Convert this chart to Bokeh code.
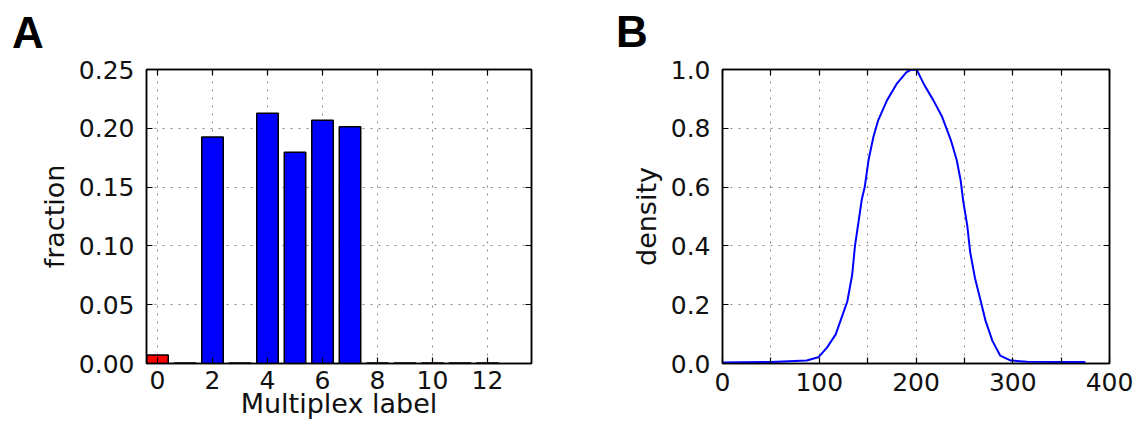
from bokeh.plotting import figure
from bokeh.models import (FixedTicker, PrintfTickFormatter, LinearAxis,
                          Range1d, ColumnDataSource, Div)
from bokeh.layouts import row, column
from bokeh.embed import file_html
from bokeh.resources import INLINE

# ---------------- data ----------------
multiplex_labels = [0, 1, 2, 3, 4, 5, 6, 7, 8, 9, 10, 11, 12]
fractions = [0.0073, 0.0005, 0.1926, 0.0005, 0.2128, 0.1797, 0.2069, 0.2013,
             0.0005, 0.0005, 0.0005, 0.0005, 0.0005]
highlight_label = 0

density_x = [0, 18, 50, 87, 99, 108, 117, 123, 129, 134, 137, 141, 144, 147,
             151, 156, 161, 170, 180, 190, 194, 199, 201, 208, 218, 227, 236,
             242, 246, 249, 253, 256, 261, 267, 272, 279, 287, 298, 315, 350, 375]
density_y = [0.003, 0.004, 0.005, 0.010, 0.021, 0.054, 0.099, 0.155, 0.211,
             0.301, 0.402, 0.491, 0.559, 0.600, 0.693, 0.771, 0.828, 0.895,
             0.951, 0.990, 0.998, 1.000, 0.998, 0.951, 0.895, 0.839, 0.760,
             0.693, 0.626, 0.548, 0.469, 0.379, 0.290, 0.211, 0.144, 0.077,
             0.027, 0.010, 0.006, 0.005, 0.005]

a_xticks = [0, 2, 4, 6, 8, 10, 12]
a_yticks = [0.0, 0.05, 0.10, 0.15, 0.20, 0.25]
b_xticks = [0, 50, 100, 150, 200, 250, 300, 350, 400]
b_xtick_labels = ["0", "", "100", "", "200", "", "300", "", "400"]
b_yticks = [0.0, 0.2, 0.4, 0.6, 0.8, 1.0]

a_xlabel = "Multiplex label"
a_ylabel = "fraction"
b_ylabel = "density"
panel_titles = ["A", "B"]

FONT = "DejaVu Sans"
TICK_FS = "25px"
LABEL_FS = "27px"
HEAD_H = 50
H = 425 - HEAD_H
WA, WB = 600, 533


def style_axis(ax, ticker, show_labels=True, standoff=10):
    ax.ticker = ticker
    ax.axis_line_color = "black"
    ax.axis_line_width = 1.5
    ax.major_tick_line_color = "black"
    ax.major_tick_line_width = 1.2
    ax.major_tick_in = 6
    ax.major_tick_out = 0
    ax.minor_tick_line_color = None
    ax.major_label_text_font = FONT
    ax.axis_label_text_font = FONT
    ax.axis_label_text_font_style = "normal"
    ax.axis_label_text_font_size = LABEL_FS
    ax.axis_label_text_color = "#111111"
    if show_labels:
        ax.major_label_text_font_size = TICK_FS
        ax.major_label_text_color = "#111111"
        ax.major_label_standoff = standoff
    else:
        ax.major_label_text_font_size = "1px"
        ax.major_label_text_color = None
        ax.major_label_standoff = 0


def style_grid(p):
    for g in (p.xgrid, p.ygrid):
        g.grid_line_color = "black"
        g.grid_line_alpha = 0.45
        g.grid_line_width = 1
        g.grid_line_dash = "2 6"


def base_fig(width, xr, yr, mb_left, mb_right, mb_top, mb_bottom):
    p = figure(width=width, height=H, x_range=xr, y_range=yr,
               output_backend="svg", toolbar_location=None,
               min_border_left=mb_left, min_border_right=mb_right,
               min_border_top=mb_top, min_border_bottom=mb_bottom)
    p.outline_line_color = "black"
    p.outline_line_width = 1.5
    p.outline_line_alpha = 1.0
    p.background_fill_color = "white"
    p.border_fill_color = "white"
    return p


def panel_head(letter, width, pad_left, pad_top):
    html = ('<div style="font-family: \'Liberation Sans\'; font-size: 44px; '
            'font-weight: bold; line-height: 44px; color: black; margin: 0; '
            'padding: %dpx 0 0 %dpx;">%s</div>' % (pad_top, pad_left, letter))
    return Div(text=html, width=width, height=HEAD_H, margin=0)


# ---------------- panel A ----------------
pa = base_fig(WA, Range1d(-0.4, 13.6), Range1d(0, 0.25), 146, 69, 66 - HEAD_H, 62)
bar_colors = ["#ff0000" if l == highlight_label else "#0000ff" for l in multiplex_labels]
src_a = ColumnDataSource(dict(x=multiplex_labels, top=fractions, color=bar_colors))
pa.vbar(x="x", top="top", width=0.78, bottom=0, source=src_a,
        fill_color="color", line_color="black", line_width=1.5)

xt_a = FixedTicker(ticks=a_xticks)
yt_a = FixedTicker(ticks=a_yticks)
style_axis(pa.xaxis[0], xt_a, standoff=7)
style_axis(pa.yaxis[0], yt_a, standoff=12)
pa.xaxis[0].axis_label = a_xlabel
pa.xaxis[0].axis_label_standoff = -4
pa.yaxis[0].formatter = PrintfTickFormatter(format="%.2f")
pa.yaxis[0].axis_label = a_ylabel
pa.yaxis[0].axis_label_standoff = 6
top_a = LinearAxis()
right_a = LinearAxis()
style_axis(top_a, xt_a, show_labels=False)
style_axis(right_a, yt_a, show_labels=False)
pa.add_layout(top_a, "above")
pa.add_layout(right_a, "right")
style_grid(pa)
pa.xgrid.ticker = xt_a
pa.ygrid.ticker = yt_a

# ---------------- panel B ----------------
pb = base_fig(WB, Range1d(0, 400), Range1d(0, 1.0), 122, 24, 69 - HEAD_H, 59)
pb.line(density_x, density_y, line_color="#0000ff", line_width=2)

xt_b = FixedTicker(ticks=b_xticks)
yt_b = FixedTicker(ticks=b_yticks)
style_axis(pb.xaxis[0], xt_b, standoff=9)
style_axis(pb.yaxis[0], yt_b, standoff=12)
pb.xaxis[0].major_label_overrides = {t: lab for t, lab in zip(b_xticks, b_xtick_labels)}
pb.yaxis[0].formatter = PrintfTickFormatter(format="%.1f")
pb.yaxis[0].axis_label = b_ylabel
pb.yaxis[0].axis_label_standoff = 6
top_b = LinearAxis()
right_b = LinearAxis()
style_axis(top_b, xt_b, show_labels=False)
style_axis(right_b, yt_b, show_labels=False)
pb.add_layout(top_b, "above")
pb.add_layout(right_b, "right")
style_grid(pb)
pb.xgrid.ticker = xt_b
pb.ygrid.ticker = yt_b

head = row(panel_head(panel_titles[0], WA, 12, 11),
           panel_head(panel_titles[1], WB, 16, 10), spacing=0)
body = row(pa, pb, spacing=0)
layout = column(head, body, spacing=0)
open("out.html", "w").write(file_html(layout, INLINE))
